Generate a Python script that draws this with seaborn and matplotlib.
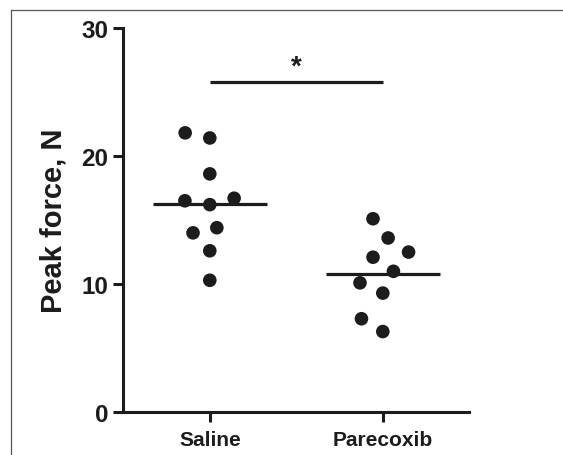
import matplotlib
matplotlib.use("Agg")
import matplotlib.pyplot as plt
from matplotlib.lines import Line2D
import pandas as pd
import seaborn as sns

groups = ["Saline", "Parecoxib"]
saline_force = [21.4, 21.8, 18.6, 16.7, 16.2, 16.5, 14.0, 14.4, 12.6, 10.3]
parecoxib_force = [15.1, 13.6, 12.1, 12.5, 11.0, 10.1, 9.3, 7.3, 6.3]
y_ticks = [0, 10, 20, 30]
sig_label = "*"
sig_height = 25.8

df = pd.DataFrame({
    "group": ["Saline"] * len(saline_force) + ["Parecoxib"] * len(parecoxib_force),
    "force": saline_force + parecoxib_force,
})

sns.set_style("ticks")
plt.rcParams["font.family"] = ["Liberation Sans", "DejaVu Sans"]
ink = "#1c1c1c"

fig = plt.figure(figsize=(5.63, 4.56), dpi=100)
ax = fig.add_axes([0.219, 0.0936, 0.6146, 0.8434])

# edge width is invisible but widens the swarm spacing, like the original
sns.swarmplot(data=df, x="group", y="force", order=groups, ax=ax,
              color=ink, size=9.8, linewidth=7.5, edgecolor="none")

# group means
means = df.groupby("group")["force"].mean()
for i, g in enumerate(groups):
    ax.hlines(means[g], i - 0.33, i + 0.33, color=ink, lw=2.3, zorder=3)

# significance bar
ax.plot([0, 1], [sig_height, sig_height], color=ink, lw=2.3, solid_capstyle="butt")
ax.text(0.5, sig_height + 0.15, sig_label, ha="center", va="bottom",
        fontsize=20, fontweight="bold", color=ink)

ax.set_xlim(-0.5, 1.5)
ax.set_ylim(0, 30)
ax.set_yticks(y_ticks)
ax.set_xlabel("")
ax.set_ylabel("Peak force, N", fontsize=21, fontweight="bold", color=ink, labelpad=10)
sns.despine(ax=ax)
for s in ["left", "bottom"]:
    ax.spines[s].set_linewidth(2.2)
    ax.spines[s].set_color(ink)
ax.tick_params(axis="both", width=2.2, length=7, color=ink, labelcolor=ink)
ax.tick_params(axis="y", labelsize=17.5, pad=4)
ax.tick_params(axis="x", labelsize=15, pad=6)
for lbl in ax.get_xticklabels() + ax.get_yticklabels():
    lbl.set_fontweight("bold")

# thin frame around the panel
frame = dict(color="#555555", lw=0.9, transform=fig.transFigure)
fig.add_artist(Line2D([11 / 563, 11 / 563], [0, 1 - 11 / 456], **frame))
fig.add_artist(Line2D([11 / 563, 1], [1 - 11 / 456, 1 - 11 / 456], **frame))

fig.savefig("out.png", dpi=100)
